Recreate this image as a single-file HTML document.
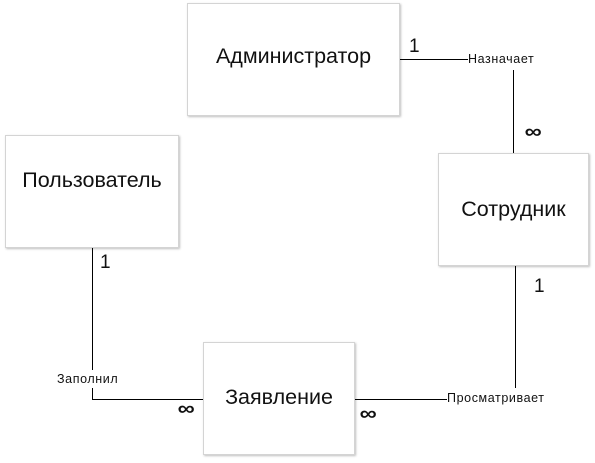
<!DOCTYPE html>
<html><head><meta charset="utf-8"><style>
body{margin:0;width:595px;height:463px;background:#fff;position:relative;overflow:hidden;font-family:"Liberation Sans","DejaVu Sans",sans-serif}
.b{position:absolute;background:#fff;border:1px solid #d4d4d4;box-shadow:1px 1px 2px rgba(0,0,0,.25);display:flex;align-items:center;justify-content:center;font-size:21.5px;color:#111;box-sizing:border-box}
.t{position:absolute;font-size:12.5px;letter-spacing:0.6px;color:#111;white-space:nowrap;line-height:1}
.n{position:absolute;font-size:19px;color:#111;line-height:1}
.i{position:absolute;font-size:20px;font-weight:bold;color:#111;line-height:1;transform:scaleX(1.2)}
</style></head><body>
<svg width="595" height="463" style="position:absolute;left:0;top:0" stroke="#000" stroke-width="1" fill="none">
<path d="M400 59.5H468"/><path d="M513.5 70V153"/>
<path d="M92.5 247V370"/><path d="M92.5 388V399.5H203"/>
<path d="M353 399.5H447"/><path d="M515.5 265V388"/>
</svg>
<div class="b" style="left:187px;top:3px;width:213px;height:113px;padding-bottom:6px">Администратор</div>
<div class="b" style="left:5px;top:135px;width:174px;height:113px;padding-bottom:22px">Пользователь</div>
<div class="b" style="left:438px;top:153px;width:151px;height:113px">Сотрудник</div>
<div class="b" style="left:203px;top:342px;width:152px;height:113px;padding-bottom:3px">Заявление</div>
<div class="t" style="left:468px;top:53px">Назначает</div>
<div class="t" style="left:57px;top:373px">Заполнил</div>
<div class="t" style="left:447px;top:392px">Просматривает</div>
<div class="n" style="left:409px;top:37px">1</div>
<div class="n" style="left:100px;top:253px">1</div>
<div class="n" style="left:534px;top:277px">1</div>
<div class="i" style="left:526px;top:122px">∞</div>
<div class="i" style="left:179px;top:399px">∞</div>
<div class="i" style="left:361px;top:404px">∞</div>
</body></html>
